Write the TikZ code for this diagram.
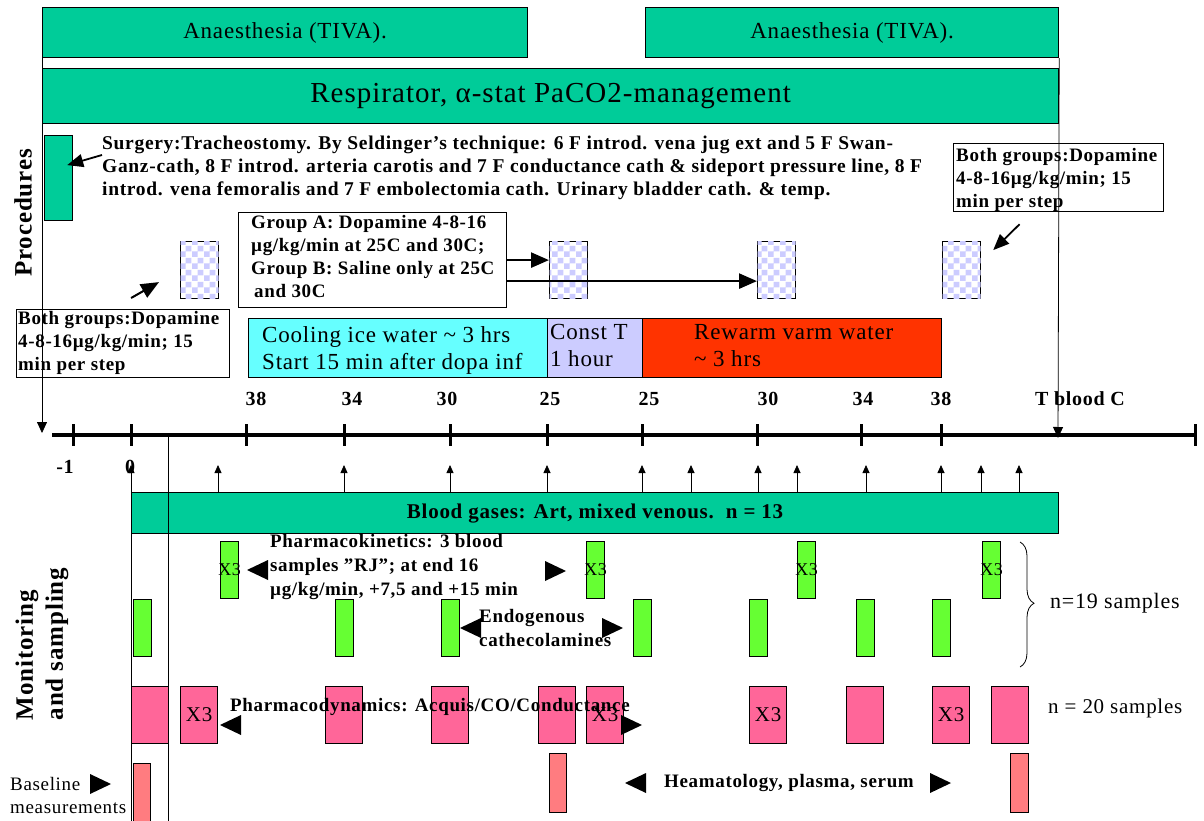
\documentclass[tikz,border=0pt]{standalone}
\usepackage{fontspec}
\setmainfont{Liberation Serif}[LetterSpace=3.5]
\usetikzlibrary{arrows.meta,calc,patterns,decorations.pathreplacing}
\pgfdeclarepatternformonly{bigcheck}{\pgfpointorigin}{\pgfqpoint{12pt}{12pt}}{\pgfqpoint{12pt}{12pt}}{%
  \pgfpathrectangle{\pgfpointorigin}{\pgfqpoint{6pt}{6pt}}%
  \pgfpathrectangle{\pgfqpoint{6pt}{6pt}}{\pgfqpoint{6pt}{6pt}}%
  \pgfusepath{fill}}
\definecolor{cteal}{HTML}{00CC99}
\definecolor{ccyan}{HTML}{66FFFF}
\definecolor{clav}{HTML}{CCCCFF}
\definecolor{cred}{HTML}{FF3300}
\definecolor{cgreen}{HTML}{66FF33}
\definecolor{cpink}{HTML}{FF6699}
\definecolor{csalm}{HTML}{FF7C80}
\newcommand\fsz[2]{\fontsize{#1}{#2}\selectfont}
\begin{document}
\begin{tikzpicture}[x=1pt,y=-1pt,
  bx/.style={draw=black, line width=1.2pt, inner sep=0pt, anchor=north west},
  chk/.style={bx, fill=white, minimum width=38, minimum height=57,
     postaction={pattern=bigcheck, pattern color=clav}},
  grn/.style={bx, fill=cgreen, minimum width=18, minimum height=57},
  pnk/.style={bx, fill=cpink, minimum width=37, minimum height=57, font=\fsz{21}{21}},
  sal/.style={bx, fill=csalm, minimum width=17, minimum height=58},
  bt/.style={font=\bfseries\fsz{19}{23}, inner sep=0pt},
  rg/.style={font=\fsz{#1}{#1}, inner sep=0pt},
  lbl/.style={font=\bfseries\fsz{20}{20}, inner sep=0pt},
  upar/.style={-{Triangle[length=8pt,width=7pt]}, line width=0.8pt},
  bigar/.style={-{Triangle[length=18pt,width=15pt]}, line width=2.5pt},
  midar/.style={-{Triangle[length=16pt,width=13pt]}, line width=1.8pt},
  downar/.style={-{Triangle[length=11pt,width=10pt]}, line width=0.8pt},
  axtick/.style={line width=3pt},
  ltri/.pic={\fill (0,0) -- (21,-10) -- (21,10) -- cycle;},
  rtri/.pic={\fill (0,0) -- (-21,-10) -- (-21,10) -- cycle;},
]
\useasboundingbox (0,0) rectangle (1204,821);
\fill[white] (0,0) rectangle (1204,821);

% anaesthesia
\node[bx, fill=cteal, minimum width=485, minimum height=50, rg=23] (an1) at (42,7) {Anaesthesia (TIVA).};
\node[bx, fill=cteal, minimum width=413, minimum height=50, rg=23] (an2) at (645,7) {Anaesthesia (TIVA).};
\coordinate (axL) at (42,433);
\coordinate (axR) at (1058,438);
\draw[downar] (an1.south west) -- (axL);
\draw[downar] (an2.south east) -- (axR);
\node[bx, fill=cteal, minimum width=1016, minimum height=55, rg=29] (resp) at (42,68) {Respirator, α-stat PaCO2-management};

% procedures
\node[bx, fill=cteal, minimum width=28, minimum height=85] (surg) at (44,135) {};
\node[bt, font=\bfseries\fsz{19.5}{22.7}, align=left, anchor=north west] (surgtxt) at (102,136) {Surgery:Tracheostomy. By Seldinger’s technique: 6 F introd. vena jug ext and 5 F Swan-\\Ganz-cath, 8 F introd. arteria carotis and 7 F conductance cath \& sideport pressure line, 8 F\\introd. vena femoralis and 7 F embolectomia cath. Urinary bladder cath. \& temp.};
\draw[midar] ($(surgtxt.north west)+(0,19)$) -- ($(surg.east)+(-6,-13)$);
\node[lbl, font=\bfseries\fsz{25}{25}, rotate=90] (proc) at (23,213) {Procedures};

\node[bx, minimum width=210, minimum height=68] (rbg) at (953,143) {};
\node[bt, align=left, anchor=north west] (rbgt) at (956,148) {Both groups:Dopamine\\4-8-16µg/kg/min; 15\\min per step};
\node[bx, minimum width=213, minimum height=68] (lbg) at (16,309) {};
\node[bt, align=left, anchor=north west] (lbgt) at (18,311) {Both groups:Dopamine\\4-8-16µg/kg/min; 15\\min per step};

\node[chk] (c1) at (180,241) {};
\node[chk] (c2) at (549,241) {};
\node[chk] (c3) at (757,241) {};
\node[chk] (c4) at (942,241) {};

\node[bx, minimum width=268, minimum height=95, fill=white] (grpA) at (238,212) {};
\node[bt, align=left, anchor=north west] (grpAt) at (251,215) {Group A: Dopamine 4-8-16\\µg/kg/min at 25C and 30C;\\Group B: Saline only at 25C\\\hspace{3pt}and 30C};
\draw[bigar] (grpA.east) -- (grpA.east -| c2.west);
\coordinate (g2) at ($(grpA.east)+(0,21)$);
\draw[bigar] (g2) -- (g2 -| c3.west);
\draw[bigar, line width=2pt] ($(lbg.north)+(8,-11)$) -- ($(c1.west)+(-21,12)$);
\draw[midar] ($(rbg.south)+(-39,12)$) -- ($(c4.east)+(12,-20)$);

% temperature phases
\node[bx, fill=ccyan, minimum width=299, minimum height=59] (cool) at (248,318) {};
\node[bx, fill=clav, minimum width=95, minimum height=59] (constT) at (547,318) {};
\node[bx, fill=cred, minimum width=299, minimum height=59] (rew) at (642,318) {};
\node[inner sep=0pt, align=left, anchor=west, font=\fsz{23}{27}] (coolt) at ($(cool.west)+(14,2)$) {Cooling ice water \textasciitilde{} 3 hrs\\Start 15 min after dopa inf};
\node[inner sep=0pt, align=left, anchor=west, font=\fsz{23}{27}] (constTt) at ($(constT.west)+(3,-3)$) {Const T\\1 hour};
\node[inner sep=0pt, align=left, anchor=west, font=\fsz{23}{27}] (rewt) at ($(rew.west)+(52,-3)$) {Rewarm varm water\\\textasciitilde{} 3 hrs};

% axis
\coordinate (a0) at (52,435);
\coordinate (a1) at (1195,435);
\draw[line width=4pt] (a0) -- (a1);
\foreach \x in {73,131,246,344,450,547,642,757,861,941,1195} \draw[axtick] (\x,424) -- (\x,446);
\foreach \x/\t in {256/38,352/34,447/30,550/25,649/25,768/30,863/34,941/38} \node[lbl] (tl\x) at (\x,399) {\t};
\node[lbl] (tb) at (1080,399) {T blood C};
\node[lbl] (m1) at (65,467) {-1};
\node[lbl] (z0) at (130,467) {0};

% monitoring
\node[bx, fill=cteal, minimum width=927, minimum height=41, font=\bfseries\fsz{21}{21}] (bg) at (131,492) {Blood gases: Art, mixed venous.\ \ n = 13};
\foreach \x in {131,218,344,450,547,642,691,758,797,866,941,981,1019} \draw[upar] (bg.north -| \x,0) -- ++(0,-27);
\draw[line width=1pt] (bg.south west) -- (131,821);
\draw[line width=1pt] (168,435) -- (168,821);
\node[lbl, font=\bfseries\fsz{25}{30}, rotate=90, align=left] (mon) at (42,644) {Monitoring\\and sampling};

\foreach \x [count=\i] in {220,586,797,982} {\node[grn] (pk\i) at (\x,541) {}; \node[rg=18] (pkx\i) at (pk\i.center) {X3};}
\foreach \x [count=\i] in {133,335,441,633,749,856,932} \node[grn] (en\i) at (\x,599) {};
\foreach \x/\t [count=\i] in {131/,180/X3,325/,431/,538/,586/X3,749/X3,846/,932/X3,991/} \node[pnk] (pd\i) at (\x,686) {\t};
\node[sal] (s1) at (133,763) {};
\node[sal, minimum height=59] (s2) at (549,753) {};
\node[sal, minimum height=59, minimum width=18] (s3) at (1010,753) {};

\node[bt, align=left, anchor=north west, font=\bfseries\fsz{19}{24}] (pkt) at (270,534) {Pharmacokinetics: 3 blood\\samples ”RJ”; at end 16\\µg/kg/min, +7,5 and +15 min};
\pic at (247,570) {ltri};
\pic at (566,571) {rtri};
\node[bt, align=left, anchor=north west, font=\bfseries\fsz{19}{24}] (ent) at (479,609) {Endogenous\\cathecolamines};
\pic at (460,628) {ltri};
\pic at (623,628) {rtri};
\node[bt, anchor=west] (pdt) at (230,707) {Pharmacodynamics: Acquis/CO/Conductance};
\pic at (220,725) {ltri};
\pic at (642,725) {rtri};
\node[bt, anchor=west] (hem) at (664,783) {Heamatology, plasma, serum};
\pic at (625,783) {ltri};
\pic at (951,783) {rtri};
\node[rg=19, anchor=west] (base) at (10,784) {Baseline};
\pic at (111,784) {rtri};
\node[rg=19, anchor=west] (meas) at (10,808) {measurements};
\draw[line width=0.8pt, decorate, decoration={brace, amplitude=14pt, aspect=0.49}] (1020,542) -- (1020,667);
\node[rg=22, anchor=west] (n19) at (1050,603) {n=19 samples};
\node[rg=21, anchor=west] (n20) at (1048,708) {n = 20 samples};
\end{tikzpicture}
\end{document}
